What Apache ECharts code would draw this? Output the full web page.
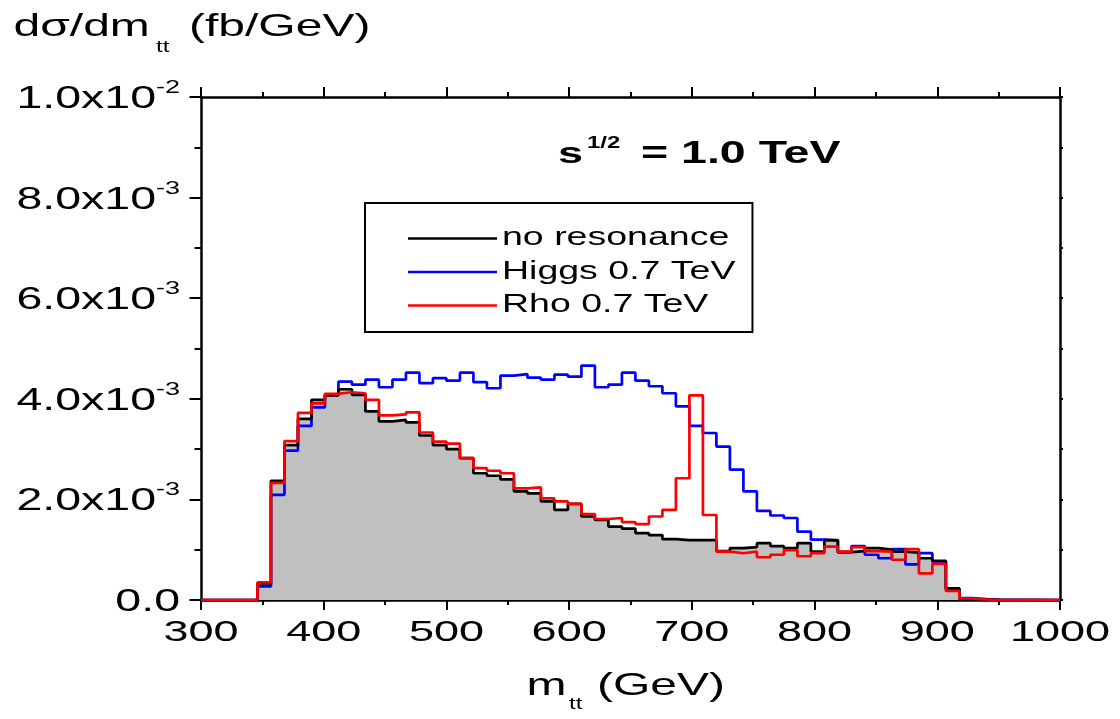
<!DOCTYPE html>
<html><head><meta charset="utf-8">
<script src="https://cdn.jsdelivr.net/npm/echarts@6/dist/echarts.min.js"></script>
<style>html,body{margin:0;padding:0;background:#fff}#c{width:1120px;height:719px}</style>
</head><body><div id="c"></div>
<script>
// ---------------- data (dsigma/dm_tt in units of 1e-3 fb/GeV) ----------------
const binEdges = [346,357,368,379,390,401,412,423,434,445,456,467,478,489,500,511,522,533,544,555,566,577,588,599,610,621,632,643,654,665,676,687,698,709,720,731,742,753,764,775,786,797,808,819,830,841,852,863,874,885,896,907,918,929,940,951];
const noResonance = [0.33,2.37,3.08,3.60,3.98,4.07,4.19,4.08,3.75,3.55, 3.58,3.53,3.27,3.08,3.00,2.82,2.52,2.47,2.40,2.16, 2.12,1.96,1.79,1.91,1.66,1.59,1.46,1.42,1.33,1.29, 1.21,1.19,1.19,1.19,0.97,1.03,1.05,1.13,1.07,1.03, 1.13,0.96,1.19,0.95,0.97,1.03,1.00,0.96,0.94,0.83, 0.78,0.23,0.02,0.01,0];
const higgs = [0.27,2.09,2.97,3.46,3.83,4.08,4.34,4.28,4.38,4.23, 4.38,4.52,4.31,4.41,4.36,4.52,4.33,4.21,4.46,4.49, 4.42,4.38,4.48,4.44,4.66,4.23,4.28,4.52,4.36,4.25, 4.11,3.85,3.46,3.32,3.05,2.59,2.16,1.77,1.68,1.63, 1.36,1.20,1.18,0.95,1.07,0.90,0.83,1.01,0.71,0.93, 0.76,0.22,0.04,0.02,0.01];
const rho = [0.35,2.33,3.16,3.72,3.91,4.10,4.13,4.11,3.98,3.67, 3.69,3.73,3.33,3.15,3.11,2.82,2.62,2.57,2.52,2.22, 2.24,2.02,1.96,1.91,1.71,1.61,1.63,1.55,1.51,1.66, 1.79,2.42,4.07,1.69,0.96,0.93,0.96,0.85,0.90,0.99, 0.87,0.93,1.06,0.96,1.05,0.97,0.96,0.80,1.01,0.53, 0.72,0.18,0.03,0.01,0];
const seriesNames = ['no resonance','Higgs 0.7 TeV','Rho 0.7 TeV'];
const xTickLabels = ['300','400','500','600','700','800','900','1000'];
const yTickBase = ['0.0','2.0x10','4.0x10','6.0x10','8.0x10','1.0x10'];
const yTickExp  = ['','-3','-3','-3','-3','-2'];

// ---------------- horizontally widened text (as in the reference) ----------------
(function(){
  const K = 1.5;
  const P = CanvasRenderingContext2D.prototype;
  const mt = P.measureText, ft = P.fillText, st = P.strokeText;
  P.measureText = function(t){
    const m = mt.call(this, t);
    if (t === '国') return m;
    return {width: m.width*K,
      actualBoundingBoxAscent: m.actualBoundingBoxAscent, actualBoundingBoxDescent: m.actualBoundingBoxDescent,
      actualBoundingBoxLeft: m.actualBoundingBoxLeft*K, actualBoundingBoxRight: m.actualBoundingBoxRight*K,
      fontBoundingBoxAscent: m.fontBoundingBoxAscent, fontBoundingBoxDescent: m.fontBoundingBoxDescent};
  };
  P.fillText = function(t, x, y){ this.save(); this.translate(x, y); this.scale(K, 1); ft.call(this, t, 0, 0); this.restore(); };
  P.strokeText = function(t, x, y){ this.save(); this.translate(x, y); this.scale(K, 1); st.call(this, t, 0, 0); this.restore(); };
})();

const FF = 'Liberation Sans';
const X_MIN = 300, X_MAX = 1000;
function toSteps(vals){
  const pts = [[X_MIN, 0]];
  vals.forEach((v, i) => pts.push([binEdges[i], v]));
  pts.push([binEdges[vals.length], 0]);
  pts.push([X_MAX, 0]);
  return pts;
}

const chart = echarts.init(document.getElementById('c'), null, {renderer: 'canvas'});
const axisLineStyle = {color: '#000', width: 2.5};
const tickStyle = {color: '#000', width: 2};
const LW = 2.7;

function txt(x, y, text, size, bold){
  return {type: 'text', x: x, y: y, silent: true, z: 100,
    style: {text: text, fontSize: size, fontFamily: FF, fontWeight: bold ? 'bold' : 'normal', fill: '#000',
      align: 'left', verticalAlign: 'middle', textAlign: 'left', textVerticalAlign: 'middle'}};
}

chart.setOption({
  animation: false,
  backgroundColor: '#fff',
  grid: {left: 201, right: 60, top: 97, bottom: 119, containLabel: false, outerBoundsMode: 'none'},
  legend: {
    data: seriesNames, orient: 'vertical', left: 365, top: 203,
    padding: [23, 17, 14, 43], itemGap: 8.5, itemWidth: 89, itemHeight: 2.5, icon: 'rect',
    borderColor: '#000', borderWidth: 2, backgroundColor: '#fff',
    textStyle: {fontFamily: FF, fontSize: 25, color: '#000', lineHeight: 25},
    selectedMode: false
  },
  xAxis: [
    {type: 'value', position: 'bottom', min: X_MIN, max: X_MAX, interval: 100,
     axisLine: {onZero: false, lineStyle: axisLineStyle},
     axisTick: {show: true, length: 10, lineStyle: tickStyle},
     minorTick: {show: true, splitNumber: 2, length: 5, lineStyle: tickStyle},
     splitLine: {show: false},
     axisLabel: {margin: 18, fontFamily: FF, fontSize: 30, color: '#000',
       formatter: v => xTickLabels[Math.round((v - X_MIN) / 100)]}},
    {type: 'value', position: 'top', min: X_MIN, max: X_MAX, interval: 100,
     axisLine: {onZero: false, lineStyle: axisLineStyle},
     axisTick: {show: true, length: 10, lineStyle: tickStyle},
     minorTick: {show: true, splitNumber: 2, length: 5, lineStyle: tickStyle},
     splitLine: {show: false}, axisLabel: {show: false}}
  ],
  yAxis: [
    {type: 'value', position: 'left', min: 0, max: 10, interval: 2,
     axisLine: {show: true, onZero: false, lineStyle: axisLineStyle},
     axisTick: {show: true, length: 11.5, lineStyle: tickStyle},
     minorTick: {show: true, splitNumber: 2, length: 6.5, lineStyle: tickStyle},
     splitLine: {show: false},
     axisLabel: {margin: 21,
       formatter: v => { const i = Math.round(v / 2); const e = yTickExp[i];
         return e ? '{b|' + yTickBase[i] + '}{s|' + e + '}' : '{b|' + yTickBase[i] + '}'; },
       rich: {
         b: {fontFamily: FF, fontSize: 31, color: '#000', lineHeight: 36, verticalAlign: 'bottom'},
         s: {fontFamily: FF, fontSize: 18, color: '#000', lineHeight: 24, verticalAlign: 'top'}
       }}},
    {type: 'value', position: 'right', min: 0, max: 10, interval: 1,
     axisLine: {show: true, onZero: false, lineStyle: axisLineStyle},
     axisTick: {show: true, length: 3, lineStyle: tickStyle},
     splitLine: {show: false}, axisLabel: {show: false}}
  ],
  series: [
    {name: 'fill', type: 'line', step: 'end', data: toSteps(noResonance), showSymbol: false, z: 1,
     lineStyle: {width: 0, opacity: 0}, areaStyle: {color: '#c0c0c0', opacity: 1}, silent: true},
    {name: seriesNames[1], type: 'line', step: 'end', data: toSteps(higgs), showSymbol: false, z: 2,
     color: '#0000ff', lineStyle: {color: '#0000ff', width: LW}},
    {name: seriesNames[0], type: 'line', step: 'end', data: toSteps(noResonance), showSymbol: false, z: 3,
     color: '#000000', lineStyle: {color: '#000000', width: LW}},
    {name: seriesNames[2], type: 'line', step: 'end', data: toSteps(rho), showSymbol: false, z: 4,
     color: '#ff0000', lineStyle: {color: '#ff0000', width: LW}}
  ],
  graphic: [
    txt(13.5, 27, 'dσ/dm', 32),
    txt(156, 47.5, 'tt', 16),
    txt(189, 27, '(fb/GeV)', 32),
    txt(526.5, 686, 'm', 32),
    txt(569, 704.5, 'tt', 16),
    txt(597, 686, '(GeV)', 32),
    txt(558, 154.5, 's', 30, true),
    txt(587, 143.5, '1/2', 16, true),
    txt(641, 154.5, '= 1.0 TeV', 31, true)
  ]
});
</script>
</body></html>
